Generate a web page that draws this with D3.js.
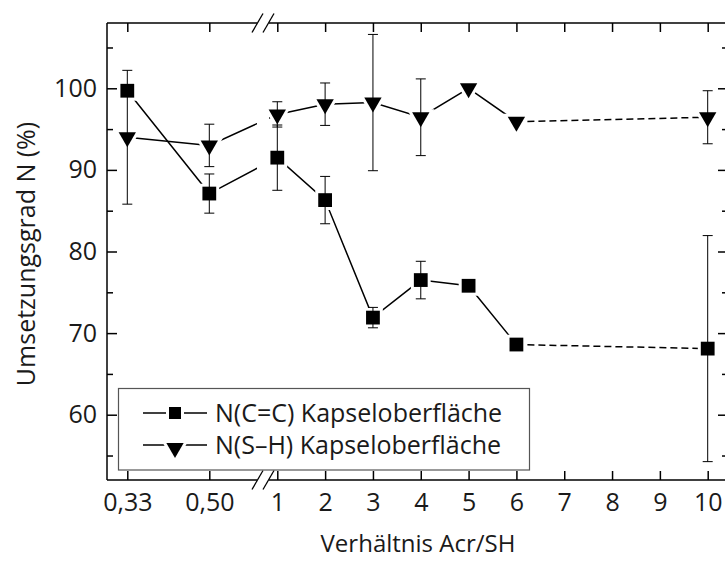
<!DOCTYPE html>
<html>
<head>
<meta charset="utf-8">
<script src="https://d3js.org/d3.v7.min.js"></script>
<style>
    body { margin: 0; background: white; }
    text { font-family: "Open Sans", sans-serif; fill: #1a1a1a; }
</style>
</head>
<body>
<div id="chart"></div>
<script>

//x categories (ratio Acr/SH), left part of the axis is before the break
const ratios = [0.33, 0.5, 1, 2, 3, 4, 5, 6, 10];
const lowLabels = ["0,33", "0,50"];
const highTicks = [1, 2, 3, 4, 5, 6, 7, 8, 9, 10];

//N(C=C) Kapseloberfläche
const ccMean = [99.7, 87.1, 91.5, 86.3, 71.9, 76.5, 75.8, 68.6, 68.1];
const ccErr = [0, 2.4, 4.0, 2.9, 1.25, 2.3, 0, 0, 13.85];

//N(S-H) Kapseloberfläche
const shMean = [94.0, 93.0, 96.8, 98.05, 98.25, 96.45, 100.0, 95.9, 96.45];
const shErr = [8.2, 2.6, 1.55, 2.6, 8.35, 4.7, 0, 0, 3.25];

const yMajor = [60, 70, 80, 90, 100];
const yMinor = [55, 65, 75, 85, 95, 105];

const seriesNames = ["N(C=C) Kapseloberfläche", "N(S\u2013H) Kapseloberfläche"];

const width = 725;
const height = 561;
const plot = { left: 107, right: 728, top: 23, bottom: 480 };
const gap = { x0: 257, x1: 269 };

const svg = d3.select("#chart")
    .append("svg")
    .attr("width", width)
    .attr("height", height);

//scales
const yScale = d3.scaleLinear()
    .domain([52, 108])
    .range([plot.bottom, plot.top]);

const xLow = d3.scalePoint()
    .domain(lowLabels)
    .range([127.3, 209.3]);

const xHigh = d3.scaleLinear()
    .domain([1, 10])
    .range([277.3, 707.7]);

function xPos(r) {
    if (r < 1) {
        return xLow(r === 0.33 ? "0,33" : "0,50");
    }
    return xHigh(r);
}

//build point lists
const series = [ccMean, shMean].map(function(means, s) {
    const errs = s === 0 ? ccErr : shErr;
    return means.map(function(m, i) {
        return { x: xPos(ratios[i]), y: yScale(m), v: m, e: errs[i] };
    });
});

const symbols = [
    d3.symbol().type(d3.symbolSquare).size(190),
    d3.symbol().type(d3.symbolTriangle).size(130)
];
const rotations = [0, 180];

//connecting lines (solid up to 6, dashed from 6 to 10)
const lineGen = d3.line().x(function(d) { return d.x; }).y(function(d) { return d.y; });

series.forEach(function(pts) {
    svg.append("path")
        .attr("d", lineGen(pts.slice(0, 8)))
        .attr("fill", "none")
        .attr("stroke", "black")
        .attr("stroke-width", 1.5);

    svg.append("path")
        .attr("d", lineGen(pts.slice(7)))
        .attr("fill", "none")
        .attr("stroke", "black")
        .attr("stroke-width", 1.5)
        .attr("stroke-dasharray", "7,4");
});

//white band where the axis is broken
svg.append("rect")
    .attr("x", gap.x0)
    .attr("y", plot.top - 2)
    .attr("width", gap.x1 - gap.x0)
    .attr("height", plot.bottom - plot.top + 4)
    .attr("fill", "white");

//white halo so lines stop short of the markers
series.forEach(function(pts, s) {
    svg.selectAll(".halo" + s)
        .data(pts)
        .enter()
        .append("path")
        .attr("d", symbols[s])
        .attr("transform", function(d) { return "translate(" + d.x + "," + d.y + ") rotate(" + rotations[s] + ")"; })
        .attr("fill", "white")
        .attr("stroke", "white")
        .attr("stroke-width", 6);
});

//error bars
series.forEach(function(pts) {
    const withErr = pts.filter(function(d) { return d.e > 0; });
    const g = svg.append("g")
        .attr("stroke", "black")
        .attr("stroke-width", 1);

    withErr.forEach(function(d) {
        const top = yScale(d.v + d.e);
        const bot = yScale(d.v - d.e);
        g.append("line").attr("x1", d.x).attr("x2", d.x).attr("y1", top).attr("y2", bot);
        g.append("line").attr("x1", d.x - 5).attr("x2", d.x + 5).attr("y1", top).attr("y2", top);
        g.append("line").attr("x1", d.x - 5).attr("x2", d.x + 5).attr("y1", bot).attr("y2", bot);
    });
});

//markers
series.forEach(function(pts, s) {
    svg.selectAll(".marker" + s)
        .data(pts)
        .enter()
        .append("path")
        .attr("d", symbols[s])
        .attr("transform", function(d) { return "translate(" + d.x + "," + d.y + ") rotate(" + rotations[s] + ")"; })
        .attr("fill", "black");
});

//frame lines, broken at the gap on top and bottom
const frame = svg.append("g")
    .attr("stroke", "black")
    .attr("stroke-width", 1.5)
    .attr("fill", "none");

[plot.top, plot.bottom].forEach(function(yy) {
    frame.append("line").attr("x1", plot.left).attr("x2", gap.x0).attr("y1", yy).attr("y2", yy);
    frame.append("line").attr("x1", gap.x1).attr("x2", plot.right).attr("y1", yy).attr("y2", yy);
    [gap.x0 + 0.5, gap.x1 - 0.5].forEach(function(cx) {
        frame.append("line")
            .attr("x1", cx - 5.5).attr("y1", yy + 9.5)
            .attr("x2", cx + 5.5).attr("y2", yy - 9.5)
            .attr("stroke-width", 1.3);
    });
});
frame.append("line").attr("x1", plot.left).attr("x2", plot.left).attr("y1", plot.top).attr("y2", plot.bottom);
frame.append("line").attr("x1", plot.right).attr("x2", plot.right).attr("y1", plot.top).attr("y2", plot.bottom);

function styleAxis(g) {
    g.select(".domain").remove();
    g.selectAll("line").attr("stroke", "black").attr("stroke-width", 1.5);
    g.selectAll("text").style("font-size", "25px").attr("fill", "#1a1a1a");
}

//bottom axis (two parts)
svg.append("g")
    .attr("transform", "translate(0," + plot.bottom + ")")
    .call(d3.axisBottom(xLow).tickSize(-9).tickPadding(13))
    .call(styleAxis);

svg.append("g")
    .attr("transform", "translate(0," + plot.bottom + ")")
    .call(d3.axisBottom(xHigh).tickValues(highTicks).tickFormat(d3.format("d")).tickSize(-9).tickPadding(13))
    .call(styleAxis);

//top axis, ticks only
svg.append("g")
    .attr("transform", "translate(0," + plot.top + ")")
    .call(d3.axisTop(xLow).tickSize(-9).tickFormat(""))
    .call(styleAxis);

svg.append("g")
    .attr("transform", "translate(0," + plot.top + ")")
    .call(d3.axisTop(xHigh).tickValues(highTicks).tickSize(-9).tickFormat(""))
    .call(styleAxis);

//left axis
svg.append("g")
    .attr("transform", "translate(" + plot.left + ",0)")
    .call(d3.axisLeft(yScale).tickValues(yMajor).tickSize(-10).tickPadding(10))
    .call(styleAxis);

svg.append("g")
    .attr("transform", "translate(" + plot.left + ",0)")
    .call(d3.axisLeft(yScale).tickValues(yMinor).tickSize(-6).tickFormat(""))
    .call(styleAxis);

//right axis, ticks only
svg.append("g")
    .attr("transform", "translate(" + plot.right + ",0)")
    .call(d3.axisRight(yScale).tickValues(yMajor).tickSize(-10).tickFormat(""))
    .call(styleAxis);

svg.append("g")
    .attr("transform", "translate(" + plot.right + ",0)")
    .call(d3.axisRight(yScale).tickValues(yMinor).tickSize(-6).tickFormat(""))
    .call(styleAxis);

//axis titles
svg.append("text")
    .attr("x", 418)
    .attr("y", 552)
    .attr("text-anchor", "middle")
    .style("font-size", "24px")
    .text("Verhältnis Acr/SH");

svg.append("text")
    .attr("transform", "rotate(-90)")
    .attr("x", -254)
    .attr("y", 35)
    .attr("text-anchor", "middle")
    .style("font-size", "25px")
    .text("Umsetzungsgrad N (%)");

//legend
const legend = svg.append("g");

legend.append("rect")
    .attr("x", 118.5)
    .attr("y", 388.5)
    .attr("width", 411)
    .attr("height", 81.5)
    .attr("fill", "white")
    .attr("stroke", "#555")
    .attr("stroke-width", 1.2);

const legendRows = [413, 445];
const legendSymbols = [
    d3.symbol().type(d3.symbolSquare).size(144),
    d3.symbol().type(d3.symbolTriangle).size(130)
];

legendRows.forEach(function(ly, s) {
    legend.append("line")
        .attr("x1", 143).attr("x2", 207)
        .attr("y1", ly).attr("y2", ly)
        .attr("stroke", "black")
        .attr("stroke-width", 1.5);

    const my = s === 0 ? ly : ly + 3;
    legend.append("path")
        .attr("d", legendSymbols[s])
        .attr("transform", "translate(175," + my + ") rotate(" + rotations[s] + ")")
        .attr("fill", "black")
        .attr("stroke", "white")
        .attr("stroke-width", 6)
        .attr("paint-order", "stroke");

    legend.append("text")
        .attr("x", 215)
        .attr("y", ly + 9)
        .style("font-size", "25px")
        .text(seriesNames[s]);
});

</script>
</body>
</html>
